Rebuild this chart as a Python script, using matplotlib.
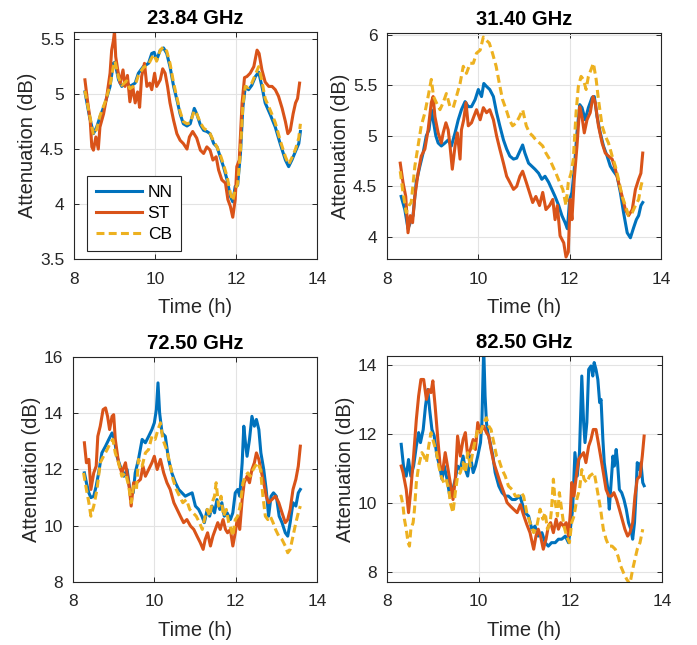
import numpy as np
import matplotlib
matplotlib.use("Agg")
import matplotlib.pyplot as plt
from matplotlib.ticker import FormatStrFormatter

plt.rcParams['font.family'] = ['Liberation Sans', 'DejaVu Sans']

# ---- data ----
titles = ["23.84 GHz", "31.40 GHz", "72.50 GHz", "82.50 GHz"]
labels = ["NN", "ST", "CB"]

# 23.84 GHz
t23_nn = [8.27, 8.38, 8.48, 8.56, 8.64, 8.77, 8.89, 8.97, 9.01, 9.10, 9.18, 9.30, 9.38, 9.51, 9.59,
          9.71, 9.84, 9.92, 9.98, 10.04, 10.13, 10.21, 10.29, 10.37, 10.46, 10.54, 10.62, 10.70, 10.79,
          10.87, 10.97, 11.03, 11.12, 11.20, 11.28, 11.36, 11.45, 11.53, 11.61, 11.69, 11.78, 11.86,
          11.92, 11.98, 12.04, 12.11, 12.17, 12.23, 12.31, 12.39, 12.48, 12.56, 12.64, 12.72, 12.85,
          12.97, 13.09, 13.22, 13.30, 13.38, 13.47, 13.55, 13.59]
a23_nn = [5.02, 4.80, 4.64, 4.70, 4.79, 4.92, 5.07, 5.28, 5.29, 5.13, 5.07, 5.11, 5.07, 5.10, 5.19,
          5.25, 5.28, 5.37, 5.38, 5.31, 5.40, 5.42, 5.37, 5.25, 5.07, 4.95, 4.82, 4.73, 4.71,
          4.73, 4.87, 4.82, 4.72, 4.67, 4.66, 4.64, 4.55, 4.52, 4.43, 4.34, 4.22, 4.07,
          4.02, 4.16, 4.17, 4.46, 4.88, 5.07, 5.04, 5.08, 5.16, 5.20, 5.07, 4.92, 4.81,
          4.70, 4.55, 4.40, 4.34, 4.40, 4.48, 4.55, 4.66]
t23_st = [8.27, 8.33, 8.40, 8.44, 8.48, 8.54, 8.60, 8.64, 8.73, 8.81, 8.89, 8.93, 8.97, 9.00, 9.03,
          9.08, 9.14, 9.21, 9.26, 9.32, 9.38, 9.45, 9.51, 9.57, 9.62, 9.67, 9.74, 9.80, 9.87, 9.92,
          9.99, 10.04, 10.13, 10.19, 10.25, 10.31, 10.37, 10.46, 10.54, 10.62, 10.70, 10.79, 10.85,
          10.93, 11.03, 11.12, 11.20, 11.28, 11.36, 11.43, 11.51, 11.57, 11.65, 11.74, 11.80, 11.86,
          11.92, 11.98, 12.02, 12.08, 12.15, 12.21, 12.27, 12.35, 12.44, 12.52, 12.57, 12.64, 12.72,
          12.81, 12.89, 12.97, 13.05, 13.14, 13.22, 13.28, 13.34, 13.41, 13.47, 13.52, 13.57]
a23_st = [5.13, 4.95, 4.76, 4.52, 4.49, 4.61, 4.50, 4.70, 4.82, 4.98, 5.19, 5.40, 5.48, 5.57, 5.34,
          5.22, 5.10, 5.22, 5.07, 5.17, 4.93, 5.07, 4.92, 5.02, 4.88, 5.16, 5.28, 5.07, 5.10, 5.04,
          5.19, 5.07, 5.13, 5.23, 5.19, 5.07, 4.92, 4.76, 4.64, 4.58, 4.55, 4.50, 4.61,
          4.66, 4.60, 4.49, 4.46, 4.52, 4.49, 4.40, 4.43, 4.31, 4.22, 4.19, 4.04, 3.98,
          3.88, 4.04, 4.34, 4.40, 4.92, 5.15, 5.16, 5.19, 5.25, 5.40, 5.37, 5.22, 5.11,
          5.07, 5.07, 5.04, 4.98, 4.87, 4.75, 4.64, 4.67, 4.82, 4.92, 4.96, 5.10]
t23_cb = t23_nn
a23_cb = [5.03, 4.82, 4.63, 4.68, 4.80, 4.93, 5.08, 5.25, 5.30, 5.15, 5.08, 5.12, 5.05, 5.08, 5.17,
          5.24, 5.27, 5.33, 5.36, 5.30, 5.40, 5.43, 5.39, 5.28, 5.10, 4.97, 4.84, 4.75, 4.73,
          4.74, 4.85, 4.82, 4.74, 4.69, 4.67, 4.64, 4.57, 4.52, 4.45, 4.36, 4.25, 4.10,
          4.03, 4.13, 4.18, 4.48, 4.90, 5.07, 5.06, 5.10, 5.18, 5.25, 5.12, 4.96, 4.85,
          4.74, 4.58, 4.43, 4.36, 4.42, 4.50, 4.60, 4.73]

# 31.40 GHz
t31_nn = [8.31, 8.39, 8.46, 8.51, 8.57, 8.64, 8.72, 8.79, 8.86, 8.92, 8.97, 9.01, 9.07, 9.12, 9.19,
          9.27, 9.34, 9.41, 9.49, 9.56, 9.63, 9.71, 9.78, 9.85, 9.93, 10.00, 10.07, 10.12, 10.18,
          10.25, 10.33, 10.40, 10.47, 10.55, 10.62, 10.69, 10.77, 10.84, 10.91, 10.97, 11.02, 11.10,
          11.17, 11.24, 11.32, 11.39, 11.46, 11.54, 11.61, 11.68, 11.76, 11.83, 11.90, 11.95, 12.00,
          12.05, 12.10, 12.16, 12.22, 12.27, 12.34, 12.41, 12.49, 12.54, 12.60, 12.67, 12.74, 12.82,
          12.89, 12.96, 13.04, 13.11, 13.18, 13.26, 13.33, 13.40, 13.46, 13.51, 13.56, 13.60]
a31_nn = [4.40, 4.27, 4.08, 4.14, 4.21, 4.54, 4.70, 4.83, 5.00, 5.06, 5.26, 5.16, 5.00, 4.93, 4.90,
          4.93, 4.96, 4.90, 5.03, 5.16, 5.26, 5.34, 5.29, 5.29, 5.36, 5.46, 5.39, 5.52, 5.49,
          5.46, 5.39, 5.23, 5.10, 4.96, 4.87, 4.80, 4.77, 4.78, 4.85, 4.91, 4.83, 4.73,
          4.70, 4.67, 4.63, 4.57, 4.60, 4.54, 4.47, 4.40, 4.31, 4.21, 4.14, 4.08, 4.37,
          4.44, 4.67, 5.03, 5.31, 5.28, 5.16, 5.28, 5.38, 5.39, 5.19, 5.03, 4.90, 4.80,
          4.70, 4.65, 4.60, 4.44, 4.24, 4.04, 3.99, 4.09, 4.17, 4.21, 4.31, 4.34]
t31_st = [8.29, 8.35, 8.41, 8.46, 8.51, 8.56, 8.61, 8.68, 8.75, 8.83, 8.90, 8.97, 9.01, 9.05, 9.12,
          9.19, 9.23, 9.29, 9.34, 9.38, 9.43, 9.49, 9.54, 9.60, 9.63, 9.68, 9.73, 9.78, 9.85, 9.90,
          9.96, 10.04, 10.11, 10.18, 10.25, 10.33, 10.40, 10.47, 10.55, 10.62, 10.69, 10.77, 10.84,
          10.91, 10.97, 11.05, 11.12, 11.19, 11.26, 11.34, 11.41, 11.48, 11.56, 11.63, 11.68, 11.73,
          11.79, 11.87, 11.92, 11.97, 12.01, 12.05, 12.10, 12.16, 12.22, 12.27, 12.32, 12.38, 12.45,
          12.51, 12.56, 12.63, 12.71, 12.78, 12.85, 12.93, 13.00, 13.07, 13.15, 13.22, 13.29, 13.37,
          13.44, 13.51, 13.56, 13.60]
a31_st = [4.73, 4.54, 4.40, 4.04, 4.21, 4.14, 4.40, 4.63, 4.80, 4.87, 5.06, 5.33, 5.39, 5.19, 5.03,
          4.93, 5.03, 5.13, 5.06, 4.90, 4.67, 4.90, 5.03, 4.77, 5.06, 5.16, 5.33, 5.10, 5.13, 5.19,
          5.26, 5.16, 5.28, 5.23, 5.26, 5.16, 5.00, 4.87, 4.73, 4.60, 4.54, 4.47, 4.50,
          4.60, 4.65, 4.54, 4.44, 4.34, 4.40, 4.31, 4.44, 4.27, 4.31, 4.37, 4.17, 4.31,
          4.01, 3.94, 3.80, 3.85, 4.37, 4.17, 4.57, 4.90, 5.29, 5.19, 5.03, 5.16, 5.23,
          5.39, 5.33, 5.10, 4.93, 4.83, 4.80, 4.77, 4.67, 4.54, 4.40, 4.27, 4.21, 4.27,
          4.47, 4.57, 4.63, 4.83]
t31_cb = [8.29, 8.35, 8.42, 8.48, 8.53, 8.61, 8.68, 8.75, 8.83, 8.90, 8.97, 9.02, 9.08, 9.16, 9.23,
          9.30, 9.38, 9.45, 9.52, 9.60, 9.67, 9.74, 9.82, 9.89, 9.96, 10.04, 10.11, 10.17, 10.24,
          10.31, 10.39, 10.46, 10.53, 10.61, 10.68, 10.75, 10.83, 10.90, 10.97, 11.05, 11.12, 11.19,
          11.26, 11.34, 11.41, 11.48, 11.56, 11.63, 11.70, 11.78, 11.85, 11.92, 11.97, 12.03, 12.08,
          12.14, 12.19, 12.25, 12.30, 12.36, 12.41, 12.47, 12.52, 12.58, 12.63, 12.71, 12.78, 12.85,
          12.93, 13.00, 13.07, 13.15, 13.22, 13.29, 13.37, 13.44, 13.51, 13.56, 13.60]
a31_cb = [4.65, 4.44, 4.24, 4.31, 4.34, 4.70, 4.90, 5.10, 5.23, 5.39, 5.56, 5.39, 5.33, 5.26, 5.33,
          5.42, 5.29, 5.28, 5.39, 5.52, 5.69, 5.62, 5.72, 5.72, 5.82, 5.85, 5.98, 5.95, 5.92,
          5.82, 5.69, 5.52, 5.36, 5.26, 5.16, 5.10, 5.13, 5.19, 5.26, 5.10, 5.03, 5.00,
          4.96, 4.93, 4.90, 4.83, 4.77, 4.70, 4.63, 4.54, 4.47, 4.31, 4.54, 4.63, 4.77,
          5.23, 5.49, 5.59, 5.56, 5.46, 5.59, 5.66, 5.72, 5.56, 5.36, 5.10, 5.00, 4.93,
          4.80, 4.70, 4.57, 4.40, 4.31, 4.21, 4.24, 4.31, 4.37, 4.50, 4.57]

# 72.50 GHz
t72_nn = [8.28, 8.33, 8.39, 8.44, 8.51, 8.57, 8.63, 8.71, 8.80, 8.88, 8.96, 9.02, 9.08, 9.16, 9.25,
          9.33, 9.41, 9.48, 9.53, 9.61, 9.70, 9.78, 9.86, 9.94, 10.00, 10.05, 10.09, 10.13, 10.19,
          10.27, 10.35, 10.43, 10.52, 10.60, 10.68, 10.76, 10.84, 10.93, 11.01, 11.09, 11.17, 11.23,
          11.30, 11.36, 11.42, 11.48, 11.54, 11.61, 11.66, 11.72, 11.79, 11.87, 11.93, 11.99, 12.05,
          12.10, 12.16, 12.20, 12.24, 12.28, 12.34, 12.40, 12.46, 12.51, 12.57, 12.62, 12.69, 12.75,
          12.81, 12.87, 12.93, 13.00, 13.07, 13.14, 13.22, 13.28, 13.34, 13.41, 13.48, 13.54, 13.59]
a72_nn = [11.88, 11.53, 11.17, 11.00, 11.05, 11.41, 11.88, 12.59, 12.83, 13.07, 13.30, 13.07, 12.47,
          12.12, 11.76, 12.00, 11.17, 11.17, 11.88, 12.36, 13.07, 12.95, 13.18, 13.42, 13.66, 14.13,
          15.08, 14.01, 13.30, 13.18, 12.36, 11.88, 11.53, 11.29, 11.17, 11.05, 11.11, 11.17, 10.70,
          10.58, 10.34, 10.11, 10.58, 10.34, 10.70, 10.46, 10.93, 10.58, 10.82, 10.34, 10.46, 10.22,
          10.46, 11.17, 11.29, 11.05, 12.24, 13.54, 12.95, 12.47, 13.07, 13.89, 13.54, 13.78, 13.42,
          12.59, 12.00, 11.29, 10.34, 11.05, 11.17, 11.05, 10.34, 10.11, 9.75, 9.63, 10.11, 10.82,
          10.70, 11.17, 11.29]
t72_st = [8.28, 8.33, 8.39, 8.44, 8.51, 8.57, 8.61, 8.67, 8.74, 8.80, 8.85, 8.90, 8.96, 9.00, 9.04,
          9.12, 9.20, 9.29, 9.34, 9.39, 9.43, 9.49, 9.57, 9.66, 9.72, 9.78, 9.86, 9.94, 10.00, 10.07,
          10.15, 10.23, 10.31, 10.39, 10.48, 10.56, 10.64, 10.72, 10.80, 10.89, 10.97, 11.05, 11.13,
          11.20, 11.25, 11.31, 11.38, 11.44, 11.50, 11.56, 11.62, 11.69, 11.75, 11.80, 11.87, 11.93,
          11.99, 12.05, 12.10, 12.16, 12.21, 12.28, 12.34, 12.40, 12.46, 12.51, 12.57, 12.62, 12.69,
          12.75, 12.81, 12.89, 12.98, 13.06, 13.14, 13.22, 13.28, 13.34, 13.41, 13.48, 13.54, 13.59]
a72_st = [12.95, 12.24, 12.36, 11.29, 11.88, 12.12, 13.18, 13.54, 14.13, 14.19, 13.89, 13.42, 13.89,
          13.95, 13.07, 12.24, 11.88, 12.24, 11.76, 11.29, 10.70, 11.53, 11.53, 11.65, 12.12, 11.76,
          12.00, 12.24, 12.47, 12.00, 12.36, 11.88, 11.53, 11.29, 10.82, 10.58, 10.34, 10.11, 10.22,
          9.99, 9.87, 9.63, 9.40, 9.16, 9.51, 9.75, 9.28, 9.63, 9.87, 10.11, 9.87, 10.22, 9.87, 9.75,
          9.87, 9.28, 9.75, 10.34, 9.87, 10.93, 11.53, 11.76, 11.53, 12.00, 12.24, 12.59, 12.36,
          12.00, 11.53, 11.05, 10.82, 10.93, 11.05, 10.82, 10.46, 10.11, 10.22, 10.58, 11.29, 11.65,
          12.12, 12.83]
t72_cb = [8.26, 8.33, 8.39, 8.44, 8.51, 8.59, 8.67, 8.75, 8.84, 8.92, 8.98, 9.04, 9.12, 9.20, 9.29,
          9.37, 9.43, 9.49, 9.56, 9.61, 9.70, 9.78, 9.86, 9.94, 10.02, 10.09, 10.15, 10.21, 10.30,
          10.38, 10.46, 10.54, 10.62, 10.70, 10.79, 10.87, 10.95, 11.03, 11.11, 11.18, 11.23, 11.30,
          11.36, 11.42, 11.48, 11.52, 11.58, 11.64, 11.70, 11.77, 11.83, 11.89, 11.93, 11.99, 12.05,
          12.11, 12.18, 12.24, 12.30, 12.36, 12.43, 12.48, 12.54, 12.61, 12.67, 12.73, 12.79, 12.85,
          12.92, 12.98, 13.06, 13.14, 13.22, 13.28, 13.34, 13.41, 13.48, 13.54, 13.59]
a72_cb = [11.88, 11.29, 10.82, 10.34, 10.70, 11.29, 12.24, 12.47, 12.71, 12.95, 13.07, 12.59, 12.24,
          11.76, 11.88, 11.41, 10.82, 11.41, 11.29, 12.36, 12.12, 12.59, 12.71, 13.18, 13.07, 13.42,
          13.66, 13.07, 12.71, 12.24, 11.65, 11.29, 11.05, 10.82, 10.93, 10.58, 10.46, 10.34, 10.11,
          9.87, 10.22, 10.58, 10.34, 10.82, 11.05, 11.53, 10.70, 11.05, 10.34, 10.58, 10.11, 9.87,
          9.63, 10.22, 10.34, 10.70, 11.53, 11.76, 11.88, 11.76, 12.00, 12.12, 12.24, 12.00, 11.05,
          10.34, 10.22, 10.34, 10.11, 9.87, 9.63, 9.51, 9.28, 9.04, 9.16, 9.63, 10.11, 10.46, 10.70]

# 82.50 GHz
t82_nn = [8.31, 8.36, 8.42, 8.47, 8.52, 8.58, 8.64, 8.69, 8.73, 8.79, 8.84, 8.89, 8.93, 8.98, 9.03,
          9.09, 9.15, 9.20, 9.25, 9.31, 9.37, 9.42, 9.49, 9.54, 9.60, 9.66, 9.71, 9.76, 9.82, 9.88,
          9.93, 9.98, 10.04, 10.07, 10.11, 10.14, 10.17, 10.20, 10.25, 10.31, 10.36, 10.44, 10.51,
          10.58, 10.65, 10.73, 10.80, 10.90, 11.01, 11.09, 11.16, 11.23, 11.30, 11.38, 11.45, 11.52,
          11.59, 11.67, 11.74, 11.81, 11.89, 11.96, 12.00, 12.05, 12.10, 12.15, 12.20, 12.25, 12.29,
          12.32, 12.36, 12.40, 12.45, 12.49, 12.52, 12.56, 12.60, 12.64, 12.67, 12.71, 12.74, 12.78,
          12.82, 12.85, 12.89, 12.93, 12.96, 13.00, 13.03, 13.07, 13.12, 13.17, 13.22, 13.27, 13.32,
          13.36, 13.40, 13.43, 13.46, 13.51, 13.54, 13.58, 13.61]
a82_nn = [11.70, 11.07, 10.78, 11.26, 10.78, 11.07, 11.65, 12.04, 11.75, 12.13, 12.81, 13.29, 12.71,
          12.13, 11.94, 11.36, 11.07, 10.69, 11.07, 10.69, 10.20, 10.30, 10.69, 11.07, 10.97, 11.36,
          10.97, 10.78, 11.36, 10.88, 11.07, 11.36, 11.75, 12.33, 14.50, 13.10, 12.33, 12.04, 11.75,
          11.36, 10.88, 10.49, 10.30, 10.20, 10.20, 10.10, 10.10, 10.20, 9.72, 9.62, 9.24, 9.33,
          9.04, 9.14, 8.85, 8.75, 8.85, 8.85, 8.95, 8.95, 9.04, 8.85, 9.24, 9.82, 11.46, 10.78,
          11.46, 13.68, 12.33, 11.75, 12.33, 13.87, 13.97, 13.68, 14.07, 13.87, 13.58, 12.91, 13.00,
          11.84, 11.17, 10.78, 10.39, 9.82, 10.59, 11.36, 11.07, 11.55, 11.17, 10.39, 10.30, 10.10,
          9.82, 9.43, 9.24, 8.95, 9.43, 10.20, 11.17, 10.97, 11.17, 10.59, 10.50]
t82_st = [8.31, 8.35, 8.42, 8.47, 8.52, 8.58, 8.64, 8.69, 8.74, 8.80, 8.86, 8.91, 8.96, 9.00, 9.05,
          9.11, 9.16, 9.22, 9.27, 9.32, 9.38, 9.44, 9.49, 9.54, 9.60, 9.66, 9.71, 9.76, 9.82, 9.88,
          9.93, 9.98, 10.04, 10.11, 10.17, 10.22, 10.27, 10.33, 10.40, 10.47, 10.55, 10.62, 10.69,
          10.76, 10.84, 10.91, 10.98, 11.05, 11.12, 11.20, 11.25, 11.30, 11.35, 11.41, 11.47, 11.52,
          11.57, 11.63, 11.69, 11.74, 11.79, 11.85, 11.91, 11.96, 12.00, 12.03, 12.08, 12.13, 12.18,
          12.23, 12.29, 12.34, 12.40, 12.45, 12.50, 12.56, 12.61, 12.66, 12.72, 12.78, 12.84, 12.90,
          12.95, 13.01, 13.07, 13.13, 13.19, 13.25, 13.30, 13.36, 13.41, 13.46, 13.52, 13.57, 13.61]
a82_st = [11.07, 10.88, 10.39, 9.72, 10.39, 11.36, 12.42, 13.10, 13.58, 13.58, 13.00, 13.29, 13.20,
          13.54, 12.81, 11.84, 11.07, 10.97, 11.46, 11.07, 10.59, 10.10, 10.69, 11.94, 11.36, 11.84,
          12.04, 11.36, 11.55, 11.84, 11.55, 12.33, 12.04, 12.23, 12.04, 11.94, 11.55, 11.17, 10.88,
          10.59, 10.30, 10.01, 9.91, 9.82, 9.72, 9.95, 9.65, 9.38, 9.14, 8.66, 9.04, 9.24, 9.04,
          8.66, 8.95, 9.33, 9.43, 9.14, 9.53, 9.24, 9.43, 9.33, 9.43, 9.04, 9.72, 10.59, 10.20,
          10.78, 11.26, 11.36, 11.46, 11.17, 11.65, 11.84, 12.13, 12.13, 11.75, 11.36, 10.88, 10.39,
          10.20, 10.20, 10.30, 10.10, 9.82, 9.53, 9.24, 9.04, 9.14, 9.43, 10.20, 10.69, 10.78,
          11.36, 11.94]
t82_cb = [8.28, 8.31, 8.35, 8.38, 8.42, 8.46, 8.49, 8.52, 8.57, 8.60, 8.64, 8.69, 8.76, 8.81, 8.86,
          8.91, 8.96, 9.02, 9.08, 9.13, 9.18, 9.24, 9.29, 9.35, 9.38, 9.44, 9.49, 9.54, 9.60, 9.66,
          9.71, 9.76, 9.82, 9.88, 9.93, 9.98, 10.04, 10.11, 10.17, 10.22, 10.27, 10.33, 10.39,
          10.44, 10.51, 10.58, 10.65, 10.73, 10.80, 10.87, 10.93, 10.98, 11.05, 11.12, 11.20, 11.27,
          11.34, 11.40, 11.45, 11.50, 11.56, 11.59, 11.63, 11.67, 11.72, 11.76, 11.81, 11.86, 11.92,
          11.98, 12.03, 12.08, 12.14, 12.20, 12.25, 12.30, 12.36, 12.42, 12.47, 12.52, 12.56, 12.61,
          12.66, 12.72, 12.78, 12.84, 12.91, 12.98, 13.04, 13.10, 13.16, 13.23, 13.30, 13.36, 13.41,
          13.46, 13.52, 13.58]
a82_cb = [10.18, 10.20, 9.91, 9.53, 9.24, 8.85, 8.75, 9.24, 9.43, 9.82, 10.59, 11.07, 11.46, 11.36,
          11.17, 11.65, 12.04, 11.75, 11.46, 11.07, 10.78, 10.59, 10.69, 10.39, 10.01, 9.72, 10.30,
          10.78, 10.88, 11.17, 10.88, 11.46, 11.07, 11.55, 11.84, 12.13, 12.04, 12.33, 12.47, 12.23,
          12.13, 11.75, 11.36, 11.26, 10.97, 10.78, 10.49, 10.39, 10.20, 10.20, 10.30, 10.20, 9.72,
          9.43, 9.14, 9.33, 9.82, 9.53, 9.72, 9.24, 9.43, 9.82, 10.69, 10.01, 9.62, 10.30, 9.82,
          9.33, 9.04, 8.85, 9.43, 9.62, 10.10, 10.39, 10.97, 10.69, 10.59, 10.78, 10.83, 10.88,
          10.59, 10.20, 9.82, 9.24, 8.95, 8.75, 8.75, 8.66, 8.46, 8.17, 7.98, 7.79, 7.65, 8.08,
          8.37, 8.66, 8.85, 9.24]

panels = [
    [(t23_nn, a23_nn), (t23_st, a23_st), (t23_cb, a23_cb)],
    [(t31_nn, a31_nn), (t31_st, a31_st), (t31_cb, a31_cb)],
    [(t72_nn, a72_nn), (t72_st, a72_st), (t72_cb, a72_cb)],
    [(t82_nn, a82_nn), (t82_st, a82_st), (t82_cb, a82_cb)],
]
ylims = [(3.5, 5.565), (3.78, 6.02), (8, 16), (7.71, 14.26)]
yticks = [[3.5, 4, 4.5, 5, 5.5], [4, 4.5, 5, 5.5, 6], [8, 10, 12, 14, 16], [8, 10, 12, 14]]

colors = ['#0072BD', '#D95319', '#EDB120']
styles = ['-', '-', (0, (2.6, 1.4))]

# axes boxes in pixels: left, right, top, bottom
W, H = 697, 645
boxes = [(74, 317, 32, 259), (387, 661, 33, 259), (73, 317, 357, 582), (387, 662, 356, 582)]

fig = plt.figure(figsize=(W / 100, H / 100), dpi=100)
dark = '#262626'

for i, (l, r, t, b) in enumerate(boxes):
    ax = fig.add_axes([l / W, 1 - b / H, (r - l) / W, (b - t) / H])
    for (tt, aa), c, ls, lab in zip(panels[i], colors, styles, labels):
        ax.plot(tt, aa, color=c, linestyle=ls, lw=2.2, label=lab)
    ax.set_xlim(8, 14)
    ax.set_ylim(*ylims[i])
    ax.set_xticks([8, 10, 12, 14])
    ax.set_yticks(yticks[i])
    ax.yaxis.set_major_formatter(FormatStrFormatter('%g'))
    ax.grid(True, color='#e3e3e3', lw=0.8)
    ax.set_axisbelow(True)
    ax.tick_params(direction='in', top=True, right=True, length=3.5, width=0.7,
                   labelsize=12.5, colors=dark)
    ax.tick_params(axis='x', pad=9)
    ax.tick_params(axis='y', pad=7)
    for sp in ax.spines.values():
        sp.set_color(dark)
        sp.set_linewidth(0.8)
    ax.set_xlabel('Time (h)', fontsize=14.5, color=dark, labelpad=8)
    ax.set_ylabel('Attenuation (dB)', fontsize=14.5, color=dark, labelpad=2)
    ax.set_title(titles[i], fontsize=14.5, fontweight='bold', pad=6)
    if i == 0:
        leg = ax.legend(loc='lower left', bbox_to_anchor=(0.053, 0.035), borderaxespad=0,
                        fontsize=12.5, handlelength=2.7, handletextpad=0.3, labelspacing=0.35,
                        borderpad=0.5, fancybox=False, framealpha=1)
        leg.get_frame().set_edgecolor(dark)
        leg.get_frame().set_linewidth(0.8)

fig.savefig('out.png', dpi=100, facecolor='white')
